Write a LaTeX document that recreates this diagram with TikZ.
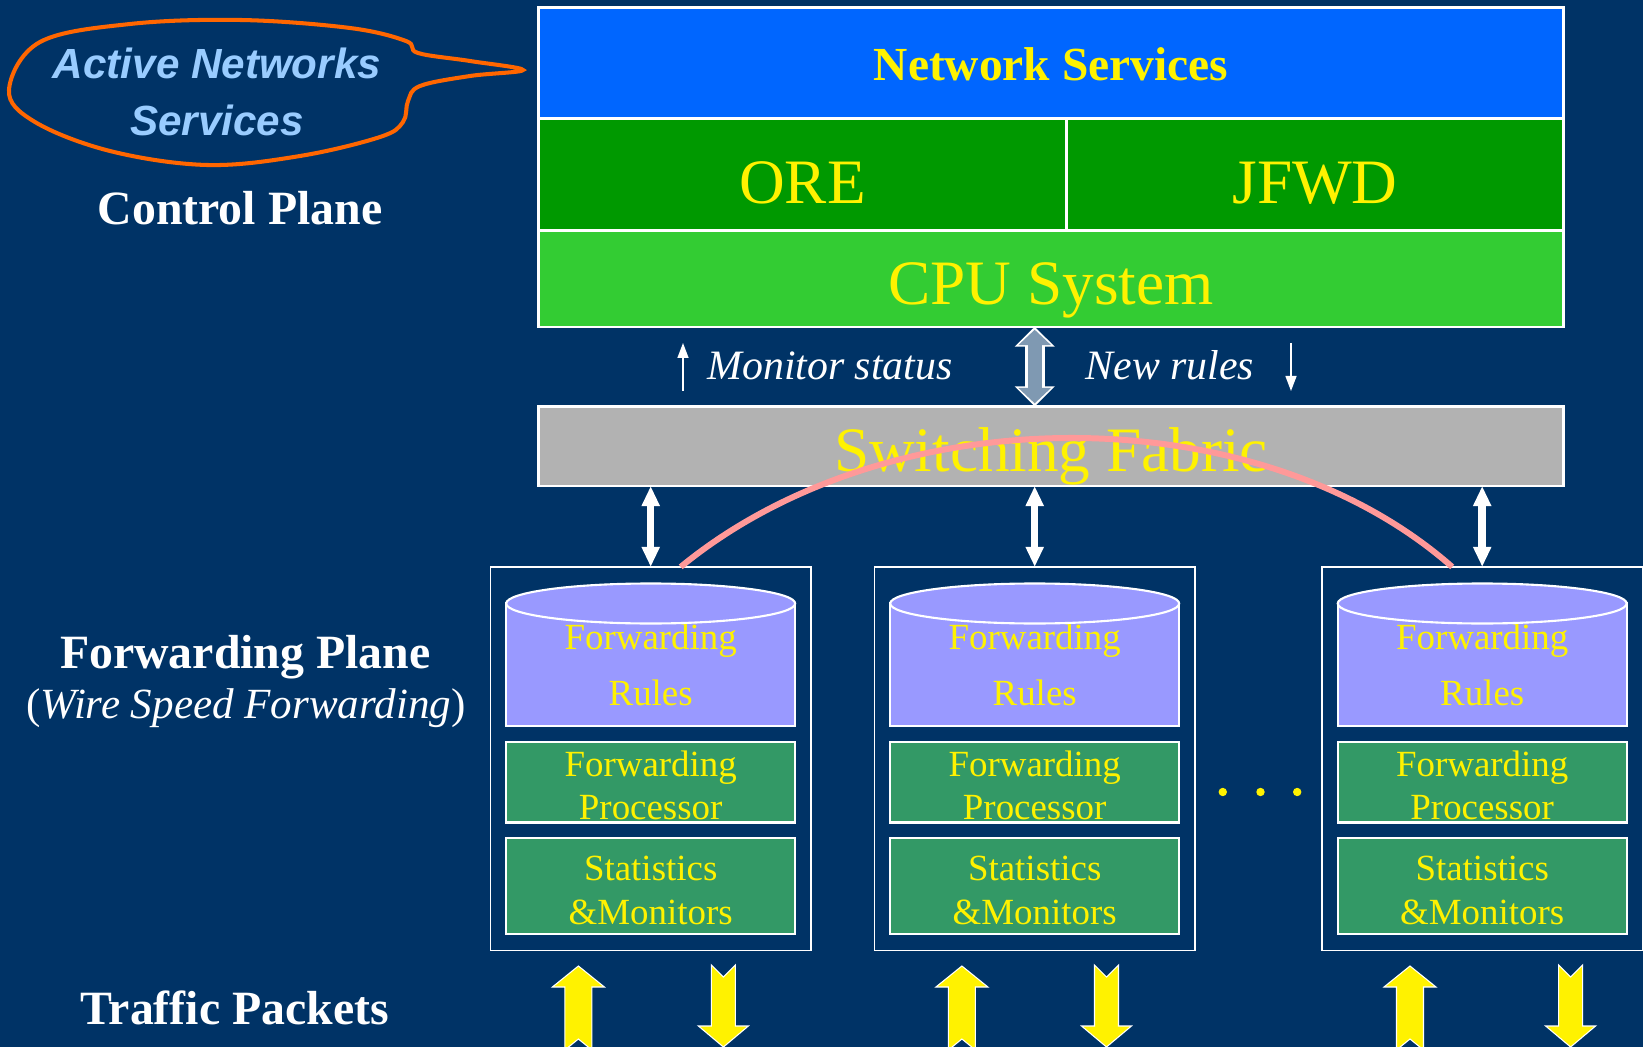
\documentclass[tikz,border=0pt]{standalone}
\usepackage{fontspec}
\setmainfont{Liberation Serif}
\newfontfamily\arialfont{Liberation Sans}
\usepackage{tikz}
\usetikzlibrary{arrows.meta,positioning,shapes.geometric}
\definecolor{fondo}{RGB}{0,51,102}
\definecolor{azulred}{RGB}{0,102,255}
\definecolor{verdeore}{RGB}{0,153,0}
\definecolor{verdecpu}{RGB}{51,204,51}
\definecolor{grisfabric}{RGB}{178,178,178}
\definecolor{lilareglas}{RGB}{153,153,255}
\definecolor{verdecelda}{RGB}{51,153,102}
\definecolor{azulburbuja}{RGB}{153,204,255}
\definecolor{naranja}{RGB}{255,102,0}
\definecolor{rosa}{RGB}{255,153,153}
\definecolor{grisbus}{RGB}{127,153,178}

\begin{document}
\begin{tikzpicture}[x=0.1mm,y=-0.1mm,
  every node/.style={inner sep=0pt,outer sep=0pt},
  top/.style={draw=white,line width=0.7pt,text=yellow,minimum height=11.1mm},
  big/.style={font=\fontsize{18}{21}\selectfont},
  cell/.style={draw=white,line width=0.6pt,fill=verdecelda,text=yellow,align=center,
               minimum width=28.9mm,font=\fontsize{10.5}{12.5}\selectfont},
  rulecell/.style={cell,fill=lilareglas,minimum height=12.25mm,font=\fontsize{10.5}{15.9}\selectfont},
  proccell/.style={cell,minimum height=8.07mm,text height=21.5pt,text depth=0pt},
  statcell/.style={cell,minimum height=9.54mm,text height=21.7pt,text depth=0pt},
  rulecap/.style={ellipse,draw=white,line width=0.6pt,fill=lilareglas,minimum width=28.9mm,minimum height=4mm},
  unit/.style={draw=white,line width=0.5pt,minimum width=32.05mm,minimum height=38.35mm},
  lbl/.style={text=white,align=center},
  bus/.style={white,line width=0.75mm,{Triangle[width=1.7mm,length=2mm]}-{Triangle[width=1.7mm,length=2mm]}},
  hint/.style={white,line width=0.4pt,-{Triangle[width=1.1mm,length=1.5mm]}},
  pkt/.style={fill=yellow,draw=white,line width=0.3pt}
]
\fill[fondo] (0,0) rectangle (1643,1047);
\useasboundingbox (0,0) rectangle (1643,1047);

\node[top,fill=azulred,minimum width=102.5mm,text height=10.3pt,text depth=0pt,
      font=\bfseries\fontsize{13.5}{16}\selectfont] (ns) at (1051,62.85) {Network Services};
\node[top,big,fill=verdeore,minimum width=52.8mm,minimum height=11.2mm,text height=16.6pt,text depth=0pt,
      anchor=north west] (ore) at (ns.south west) {ORE};
\node[top,big,fill=verdeore,minimum width=49.7mm,minimum height=11.2mm,text height=16.6pt,text depth=0pt,
      anchor=north west] (jfwd) at (ore.north east) {JFWD};
\node[top,big,fill=verdecpu,minimum width=102.5mm,minimum height=9.64mm,text height=18.9pt,text depth=3.9pt,
      anchor=north west] (cpu) at (ore.south west) {CPU System};
\node[top,big,fill=grisfabric,minimum width=102.5mm,minimum height=7.97mm,text height=18.3pt,text depth=3.9pt,
      below=7.96mm of cpu] (fabric) {Switching Fabric};

\node[lbl,font=\itshape\fontsize{11.9}{14}\selectfont] (mon) at (830,365.7) {Monitor status};
\node[lbl,font=\itshape\fontsize{11.9}{14}\selectfont] (newr) at (1170,365.7) {New rules};
\coordinate (monlo) at (683,391);
\coordinate (monhi) at (683,343);
\coordinate (newhi) at (1291,343);
\coordinate (newlo) at (1291,391);

\node[lbl,text=azulburbuja,font=\arialfont\bfseries\itshape\fontsize{12}{16.4}\selectfont] (ans) at (217,92) {Active Networks\\Services};
\node[lbl,font=\bfseries\fontsize{13.6}{16}\selectfont] (cplane) at (240,208.5) {Control Plane};
\node[lbl,anchor=base,font=\bfseries\fontsize{13.6}{16}\selectfont] (fplane) at (245.3,668.3) {Forwarding Plane};
\node[lbl,anchor=base,font=\fontsize{12.25}{14}\selectfont] (wire) at (245.8,718.3) {(\textit{Wire Speed Forwarding})};
\node[lbl,font=\bfseries\fontsize{13.6}{16}\selectfont] (traffic) at (234.7,1008) {Traffic Packets};

\node[unit] (unit1) at (650.7,758.65) {};
\node[rulecell,below=3.66mm of unit1.north] (rules1) {Forwarding\\Rules};
\node[rulecap] (cap1) at (rules1.north) {};
\node[proccell,below=1.58mm of rules1] (proc1) {Forwarding\\Processor};
\node[statcell,below=1.57mm of proc1] (stat1) {Statistics\\\&Monitors};

\node[unit] (unit2) at (1034.7,758.65) {};
\node[rulecell,below=3.66mm of unit2.north] (rules2) {Forwarding\\Rules};
\node[rulecap] (cap2) at (rules2.north) {};
\node[proccell,below=1.58mm of rules2] (proc2) {Forwarding\\Processor};
\node[statcell,below=1.57mm of proc2] (stat2) {Statistics\\\&Monitors};

\node[unit] (unit3) at (1482.2,758.65) {};
\node[rulecell,below=3.66mm of unit3.north] (rules3) {Forwarding\\Rules};
\node[rulecap] (cap3) at (rules3.north) {};
\node[proccell,below=1.58mm of rules3] (proc3) {Forwarding\\Processor};
\node[statcell,below=1.57mm of proc3] (stat3) {Statistics\\\&Monitors};

\coordinate (in1) at (578.4,966);
\coordinate (in2) at (961.9,966);
\coordinate (in3) at (1410,966);
\coordinate (out1) at (723.4,1047);
\coordinate (out2) at (1106.5,1047);
\coordinate (out3) at (1570.6,1047);

\draw[naranja,line width=1.15pt] plot[smooth cycle,tension=0.6] coordinates {(9,90) (40,42) (130,24) (241,20) (350,28) (406,41) (418,53) (470,61) (523,70) (470,76) (420,86) (408,101) (403,122) (380,137) (300,156) (207,165) (110,151) (35,122)};

\draw[white,line width=2mm,{Triangle[width=3.9mm,length=2mm]}-{Triangle[width=3.9mm,length=2mm]}] (cpu.south -| unit2.north) -- (fabric.north -| unit2.north);
\draw[grisbus,line width=1.4mm,shorten <=0.3mm,shorten >=0.3mm,{Triangle[width=3.2mm,length=1.55mm]}-{Triangle[width=3.2mm,length=1.55mm]}] (cpu.south -| unit2.north) -- (fabric.north -| unit2.north);
\draw[hint] (monlo) -- (monhi);
\draw[hint] (newhi) -- (newlo);
\draw[bus] (fabric.south -| unit1.north) -- (unit1.north);
\draw[bus] (fabric.south -| unit2.north) -- (unit2.north);
\draw[bus] (fabric.south -| unit3.north) -- (unit3.north);
\draw[rosa,line width=1.7pt] ([xshift=3mm]unit1.north) .. controls (890,395) and (1257,395) .. ([xshift=-3mm]unit3.north);

\fill[yellow] (1222.8,792) circle (0.42mm) (1260.5,792) circle (0.42mm) (1297.2,792) circle (0.42mm);

\draw[pkt] (in1) -- ++(26,21) -- ++(-12.5,0) -- ++(0,63) -- ++(-13.5,-11) -- ++(-13.5,11) -- ++(0,-63) -- ++(-12.5,0) -- cycle;
\draw[pkt] (in2) -- ++(26,21) -- ++(-12.5,0) -- ++(0,63) -- ++(-13.5,-11) -- ++(-13.5,11) -- ++(0,-63) -- ++(-12.5,0) -- cycle;
\draw[pkt] (in3) -- ++(26,21) -- ++(-12.5,0) -- ++(0,63) -- ++(-13.5,-11) -- ++(-13.5,11) -- ++(0,-63) -- ++(-12.5,0) -- cycle;
\draw[pkt] (out1) -- ++(-25,-21) -- ++(13,0) -- ++(0,-61) -- ++(12,12) -- ++(12,-12) -- ++(0,61) -- ++(13,0) -- cycle;
\draw[pkt] (out2) -- ++(-25,-21) -- ++(13,0) -- ++(0,-61) -- ++(12,12) -- ++(12,-12) -- ++(0,61) -- ++(13,0) -- cycle;
\draw[pkt] (out3) -- ++(-25,-21) -- ++(13,0) -- ++(0,-61) -- ++(12,12) -- ++(12,-12) -- ++(0,61) -- ++(13,0) -- cycle;
\end{tikzpicture}
\end{document}
